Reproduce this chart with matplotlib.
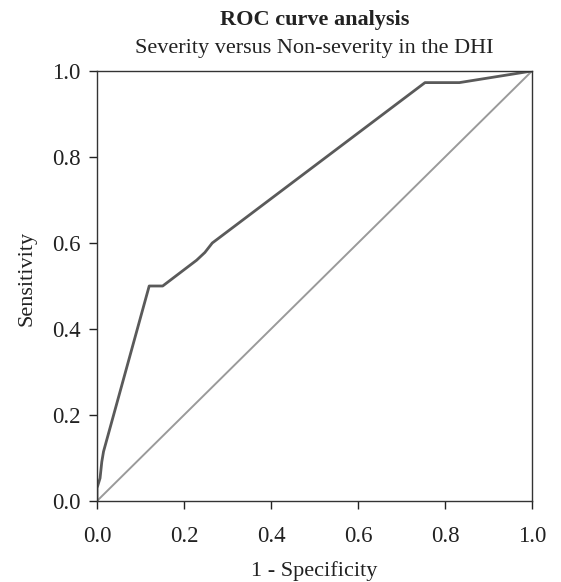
import matplotlib
matplotlib.use("Agg")
import matplotlib.pyplot as plt

fpr = [0.0, 0.0, 0.007, 0.011, 0.015, 0.12, 0.151, 0.229, 0.248, 0.265, 0.754, 0.833, 1.0]
tpr = [0.0, 0.03, 0.053, 0.091, 0.115, 0.5, 0.5, 0.56, 0.578, 0.6, 0.973, 0.973, 1.0]
ref = [0.0, 1.0]
ticks = [0.0, 0.2, 0.4, 0.6, 0.8, 1.0]
tick_labels = ["0.0", "0.2", "0.4", "0.6", "0.8", "1.0"]

plt.rcParams['font.family'] = ['Liberation Serif', 'DejaVu Serif']

fig = plt.figure(figsize=(5.61, 5.82), dpi=100)
ax = fig.add_axes([97/561, 1 - 501/582, 435/561, 430/582])

ax.plot(ref, ref, color='#9a9a9a', lw=1.4, solid_capstyle='butt')
ax.plot(fpr, tpr, color='#5a5a5a', lw=2.0, solid_joinstyle='round')

ax.set_xlim(0, 1)
ax.set_ylim(0, 1)
ax.set_xticks(ticks)
ax.set_xticklabels(tick_labels)
ax.set_yticks(ticks)
ax.set_yticklabels(tick_labels)
ax.tick_params(direction='out', length=6, width=1.0, labelsize=16.5, colors='#222222', pad=6)
ax.tick_params(axis='x', pad=12)
for s in ax.spines.values():
    s.set_linewidth(1.0)
    s.set_color('#333333')

ax.set_xlabel('1 - Specificity', fontsize=16, color='#222222', labelpad=10)
ax.set_ylabel('Sensitivity', fontsize=16, color='#222222')
ax.yaxis.set_label_coords(-0.138, (501 - 278) / 430)

cx = (97 + 532) / 2 / 561
fig.text(cx, 1 - 20/582, 'ROC curve analysis', ha='center', va='center',
         fontsize=16, fontweight='bold', color='#222222')
fig.text(cx, 1 - 49/582, 'Severity versus Non-severity in the DHI', ha='center', va='center',
         fontsize=16, color='#222222')

fig.savefig('out.png', dpi=100)
